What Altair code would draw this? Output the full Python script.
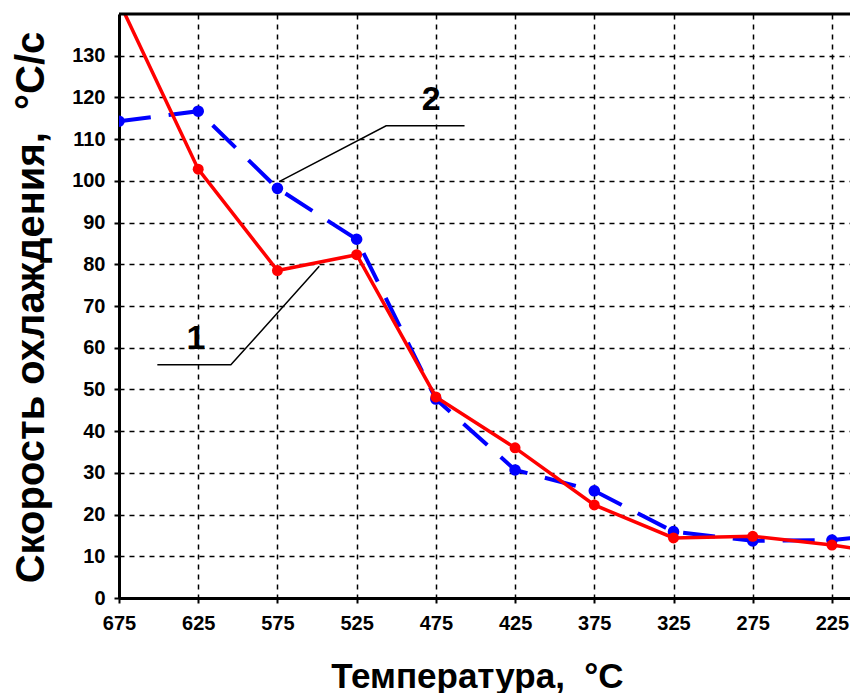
import altair as alt
import pandas as pd

temps = [675, 625, 575, 525, 475, 425, 375, 325, 275, 225, 200]
rate_1 = [143, 102.8, 78.5, 82.3, 48.2, 36.0, 22.3, 14.4, 14.8, 12.7, 11.3]
rate_2 = [114.3, 116.7, 98.2, 86.0, 47.7, 30.7, 25.7, 15.9, 13.7, 13.9, 14.8]

x_ticks = [675, 625, 575, 525, 475, 425, 375, 325, 275, 225]
y_ticks = [0, 10, 20, 30, 40, 50, 60, 70, 80, 90, 100, 110, 120, 130]

# annotation leader lines (data coordinates)
lead_1_t = [650.8, 604.4, 548.6]
lead_1_v = [55.9, 55.9, 79.5]
lead_2_t = [456.9, 506.4, 573.9]
lead_2_v = [113.2, 113.2, 99.8]
label_t = [626.5, 478.0]
label_v = [62.0, 119.3]
label_txt = ["1", "2"]

FONT = "Liberation Sans Narrow, Liberation Sans, Arial"
TFONT = "Liberation Sans, Arial"
NB = "\u00a0"

df1 = pd.DataFrame({"t": temps, "v": rate_1})
df2 = pd.DataFrame({"t": temps, "v": rate_2})
lead = pd.DataFrame({
    "t": lead_1_t + lead_2_t,
    "v": lead_1_v + lead_2_v,
    "g": ["1"] * 3 + ["2"] * 3,
    "o": [0, 1, 2, 0, 1, 2],
})
labels = pd.DataFrame({"t": label_t, "v": label_v, "s": label_txt})

xscale = alt.Scale(domain=[675, 213.6], nice=False, zero=False)
yscale = alt.Scale(domain=[0, 140], nice=False, zero=True)

xaxis = alt.Axis(
    values=x_ticks, title="Температура," + NB + NB + "°C", grid=True,
    gridColor="black", gridDash=[5, 5], gridWidth=1.5,
    domainColor="black", domainWidth=3, tickColor="black", tickWidth=2, tickSize=5,
    labelFont=FONT, labelFontSize=20, labelFontWeight="bold", labelColor="black",
    labelPadding=10, labelFlush=False, labelOverlap=False,
    titleFont=TFONT, titleFontSize=35, titleFontWeight="bold", titleColor="black",
    titleX=358, titleY=89, titleBaseline="alphabetic",
)
yaxis = alt.Axis(
    values=y_ticks, title="Скорость охлаждения," + NB + NB + "°C/с", grid=True,
    gridColor="black", gridDash=[5, 5], gridWidth=1.5,
    domainColor="black", domainWidth=3, tickColor="black", tickWidth=2, tickSize=5,
    labelFont=FONT, labelFontSize=20, labelFontWeight="bold", labelColor="black",
    labelPadding=9, labelFlush=False, labelOverlap=False,
    titleFont=TFONT, titleFontSize=40, titleFontWeight="bold", titleColor="black",
    titleX=-76, titleY=293, titleBaseline="alphabetic", titleAngle=270,
)

X = alt.X("t:Q", scale=xscale, axis=xaxis)
Y = alt.Y("v:Q", scale=yscale, axis=yaxis)

line2 = alt.Chart(df2).mark_line(color="#0000ff", strokeWidth=4, strokeDash=[32, 18], clip=True).encode(x=X, y=Y)
pts2 = alt.Chart(df2).mark_circle(color="#0000ff", size=135, opacity=1, clip=True).encode(x=X, y=Y)
line1 = alt.Chart(df1).mark_line(color="#ff0000", strokeWidth=3.5, clip=True).encode(x=X, y=Y)
pts1 = alt.Chart(df1).mark_circle(color="#ff0000", size=120, opacity=1, clip=True).encode(x=X, y=Y)

leads = alt.Chart(lead).mark_line(color="black", strokeWidth=1.5).encode(
    x="t:Q", y="v:Q", detail="g:N", order="o:Q")
texts = alt.Chart(labels).mark_text(font=TFONT, fontSize=34, fontWeight="bold", color="black",
                                    baseline="middle", align="center").encode(x="t:Q", y="v:Q", text="s:N")
top = alt.Chart(pd.DataFrame({"v": [140]})).mark_rule(color="black", strokeWidth=3).encode(y="v:Q")

chart = alt.layer(leads, line2, pts2, line1, pts1, texts, top).properties(
    width=731, height=584,
    autosize=alt.AutoSizeParams(type="none"),
    padding={"left": 119, "top": 14, "right": 0, "bottom": 95},
).configure_view(stroke=None).configure(background="white")

chart.save("out.html", embed_options={"renderer": "svg", "actions": False})
